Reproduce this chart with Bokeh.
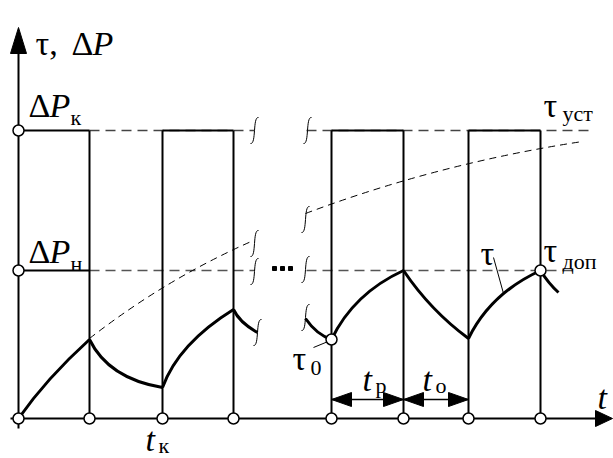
from bokeh.plotting import figure
from bokeh.models import Range1d, Label
from bokeh.embed import file_html
from bokeh.resources import INLINE

# ---- levels and instants (diagram units) ----
dP_k = 288          # ΔPк level (= τуст)
dP_n = 148          # ΔPн level (= τдоп)
t_on = [0, 144, 313, 450]
t_off = [71, 215, 385, 522]
t_marks = [0, 71, 144, 215, 313, 385, 450, 522]
gap_l, gap_r = 236, 288    # broken-axis gap
dash_end_k = 570
dash_end_n = 560

# ---- τ curve segments (quadratic pieces): start, control, end ----
seg_x0 = [0, 71, 144, 215, 287, 313, 385, 450, 522]
seg_y0 = [0, 79, 31, 109, 100, 79, 148, 80, 148]
seg_cx = [28, 90, 160, 221, 298, 335, 412, 472, 530]
seg_cy = [40, 40, 75, 96, 84, 125, 108, 125, 135]
seg_x1 = [71, 144, 215, 239, 313, 385, 450, 522, 540]
seg_y1 = [79, 31, 109, 86, 79, 148, 80, 148, 126]

# ---- heating envelope (dashed) ----
env_x0 = [71, 287]
env_y0 = [80, 205]
env_cx = [148, 420]
env_cy = [140, 255]
env_x1 = [235, 564]
env_y1 = [178, 277]

# ---- break marks ----
brk_x = [236, 236, 236, 239, 289, 287, 287, 287]
brk_y = [288, 175, 147, 86, 288, 199, 149, 101]
dots_x = [256, 264, 272]
dots_y = [150, 150, 150]

# ---- labelled points ----
tau0_x, tau0_y = 313, 79
tdop_x, tdop_y = 522, 148
dim_y = 19

p = figure(width=613, height=458, x_range=Range1d(-18, 595), y_range=Range1d(-40, 418),
           output_backend="svg", toolbar_location=None, min_border=0)
p.axis.visible = False
p.grid.visible = False
p.outline_line_color = None
p.background_fill_color = "white"

K = "black"
# dashed horizontals
p.segment(x0=[t_off[0], gap_r], y0=[dP_k, dP_k], x1=[gap_l, dash_end_k], y1=[dP_k, dP_k],
          line_color="#444", line_width=1.3, line_dash="10 6")
p.segment(x0=[t_off[0], gap_r], y0=[dP_n, dP_n], x1=[gap_l, dash_end_n], y1=[dP_n, dP_n],
          line_color="#555", line_width=1.3, line_dash="10 6")
# envelope
p.quadratic(x0=env_x0, y0=env_y0, x1=env_x1, y1=env_y1, cx=env_cx, cy=env_cy,
            line_color=K, line_width=1, line_dash="7 5")
# pulses
p.segment(x0=t_on, y0=[dP_k]*4, x1=t_off, y1=[dP_k]*4, line_color=K, line_width=2)
p.segment(x0=[0], y0=[dP_n], x1=[t_off[0]], y1=[dP_n], line_color=K, line_width=2)
p.segment(x0=t_marks[1:], y0=[0]*7, x1=t_marks[1:], y1=[dP_k]*7, line_color=K, line_width=2)

# axes with arrows
x_tip, y_tip = 594, 391
p.segment(x0=[-8, 0], y0=[0, -10], x1=[x_tip - 16, 0], y1=[0, y_tip - 25], line_color=K, line_width=2)
p.patch(x=[x_tip, x_tip - 17, x_tip - 17], y=[0, 8, -8], color=K)
p.patch(x=[0, -8, 8], y=[y_tip, y_tip - 26, y_tip - 26], color=K)

# dimension arrows
p.segment(x0=[t_on[2]], y0=[dim_y], x1=[t_on[3]], y1=[dim_y], line_color=K, line_width=1.3)
ah_x = []
ah_y = []
for tip, d in [(t_on[2], 1), (t_off[2], -1), (t_off[2], 1), (t_on[3], -1)]:
    ah_x.append([tip, tip + d * 20, tip + d * 20])
    ah_y.append([dim_y, dim_y + 7, dim_y - 7])
p.patches(xs=ah_x, ys=ah_y, color=K)

# τ curve
p.quadratic(x0=seg_x0, y0=seg_y0, x1=seg_x1, y1=seg_y1, cx=seg_cx, cy=seg_cy,
            line_color=K, line_width=3)

# break marks
p.bezier(x0=[x + 4 for x in brk_x], y0=[y + 13 for y in brk_y],
         x1=[x - 4 for x in brk_x], y1=[y - 13 for y in brk_y],
         cx0=[x - 2 for x in brk_x], cy0=[y + 14 for y in brk_y],
         cx1=[x + 2 for x in brk_x], cy1=[y - 14 for y in brk_y],
         line_color=K, line_width=1)
p.scatter(x=dots_x, y=dots_y, marker="square", size=4, color=K)

# leader lines
p.segment(x0=[475, 295], y0=[161, 71], x1=[485, tau0_x - 1], y1=[125, tau0_y - 1], line_color=K, line_width=1)

# circles
cx = [0, 0] + t_marks + [tau0_x, tdop_x]
cy = [dP_k, dP_n] + [0] * len(t_marks) + [tau0_y, tdop_y]
p.scatter(x=cx, y=cy, size=11, fill_color="white", line_color=K, line_width=1.5)

FONT = "Liberation Serif"
def txt(x, y, s, size, style="normal"):
    p.add_layout(Label(x=x, y=y, text=s, text_font=FONT, text_font_size=f"{size}px",
                       text_font_style=style, text_color=K, text_baseline="alphabetic",
                       text_align="left"))

BIG, SUB = 34, 22
txt(17, 375, "τ,", BIG)
txt(53, 375, "Δ", BIG)
txt(74, 375, "P", BIG, "italic")
txt(10, 313, "Δ", BIG); txt(31, 313, "P", BIG, "italic"); txt(52, 301, "к", SUB)
txt(10, 167, "Δ", BIG); txt(31, 167, "P", BIG, "italic"); txt(52, 155, "н", SUB)
txt(525, 313, "τ", BIG); txt(544, 305, "уст", SUB)
txt(525, 168, "τ", BIG); txt(544, 157, "доп", SUB)
txt(462, 165, "τ", BIG)
txt(274, 60, "τ", BIG); txt(292, 51, "0", SUB)
txt(127, -21, "t", BIG, "italic"); txt(140, -27, "к", SUB)
txt(344, 39, "t", BIG, "italic"); txt(357, 33, "р", SUB)
txt(404, 39, "t", BIG, "italic"); txt(417, 33, "о", SUB)
txt(579, 21, "t", BIG, "italic")

open("out.html", "w").write(file_html(p, INLINE))
